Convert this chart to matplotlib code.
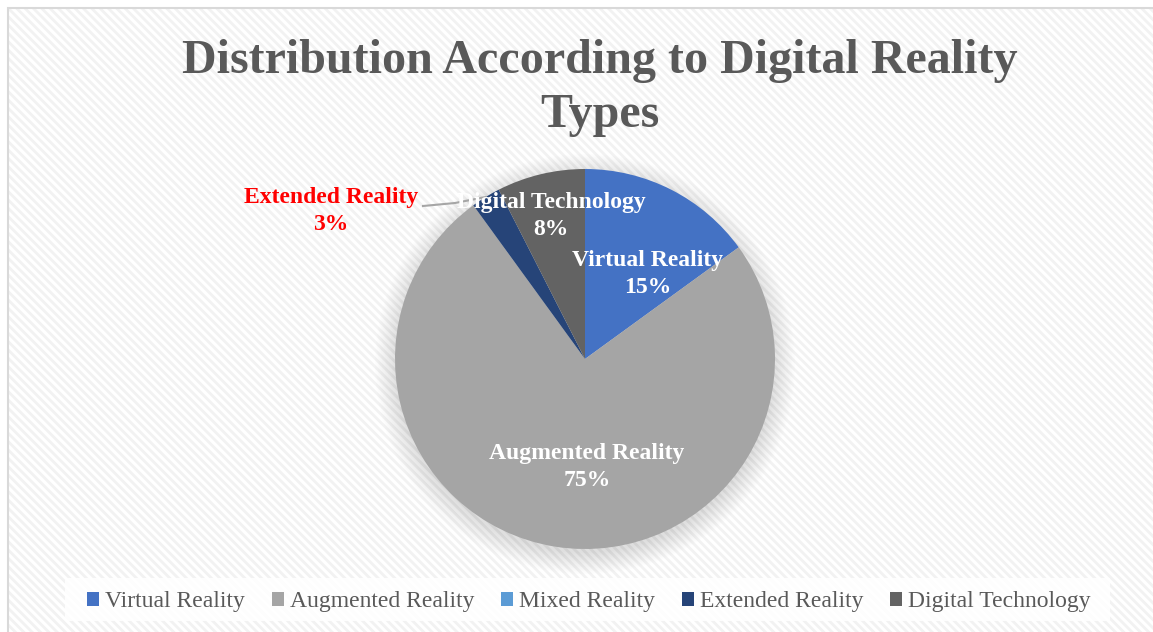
import numpy as np
import matplotlib.pyplot as plt
from matplotlib.patches import Rectangle, Circle

categories = ["Virtual Reality", "Augmented Reality", "Mixed Reality",
              "Extended Reality", "Digital Technology"]
counts = [6, 30, 0, 1, 3]
colors = ["#4472C4", "#A5A5A5", "#5B9BD5", "#264478", "#636363"]

W, H = 1153, 632
plt.rcParams["hatch.linewidth"] = 2.0
fig = plt.figure(figsize=(W / 100, H / 100), dpi=100)
ax = fig.add_axes([0, 0, 1, 1])

SERIF = ["Liberation Serif", "DejaVu Serif"]

# hatched background + frame
ax.add_patch(Rectangle((0, 0), W, H, facecolor="white", edgecolor="none", zorder=0))
ax.add_patch(Rectangle((8, -5), W, H - 8 + 5, facecolor="white", edgecolor="#F2F2F2",
                       hatch="\\\\\\\\", lw=0, zorder=0.5))
ax.add_patch(Rectangle((8, -5), W, H - 8 + 5, facecolor="none", edgecolor="#D9D9D9",
                       lw=1.5, zorder=0.6))

cx, cy, R = 585, H - 359, 190

# soft shadow
for k in range(16):
    ax.add_patch(Circle((cx, cy - 5), R + 20 - k * 1.4, facecolor="#000000",
                        alpha=0.009, edgecolor="none", zorder=1))

wedges, _ = ax.pie(counts, colors=colors, startangle=90, counterclock=False,
                   radius=R, center=(cx, cy), frame=True,
                   wedgeprops=dict(linewidth=0, zorder=2))
ax.set_xlim(0, W)
ax.set_ylim(0, H)
ax.set_aspect("equal")
ax.axis("off")

total = sum(counts)
pcts = [f"{int(c / total * 100 + 0.5)}%" for c in counts]

# label centres (image px)
label_pos = {0: (648, 274), 1: (587, 467), 4: (551, 216)}
for i, (x, y) in label_pos.items():
    ax.text(x, H - y, f"{categories[i]}\n{pcts[i]}", ha="center", va="center",
            color="white", fontsize=17, fontweight="bold", family=SERIF,
            linespacing=1.35, zorder=5)

# extended reality: outside label with leader line
ax.text(331, H - 211, f"{categories[3]}\n{pcts[3]}", ha="center", va="center",
        color="#FF0000", fontsize=17, fontweight="bold", family=SERIF,
        linespacing=1.35, zorder=5)
w = wedges[3]
mid = np.deg2rad((w.theta1 + w.theta2) / 2)
ex, ey = cx + R * np.cos(mid), cy + R * np.sin(mid)
ax.plot([423, 455, ex], [H - 206, H - 203, ey], color="#A6A6A6", lw=1.5, zorder=4)

# title
ax.text(600, H - 88, "Distribution According to Digital Reality\nTypes", ha="center",
        va="center", fontsize=34.6, fontweight="bold", color="#595959", family=SERIF,
        linespacing=1.3, zorder=5)

# legend
ax.add_patch(Rectangle((65, H - 621), 1045, 43, facecolor="white", edgecolor="none",
                       alpha=0.85, zorder=3))
leg = fig.legend(wedges, categories, loc="center", bbox_to_anchor=(589 / W, 1 - 602 / H),
                 ncol=5, frameon=False, handlelength=0.5, handleheight=0.5,
                 handletextpad=0.25, columnspacing=1.15,
                 prop=dict(family=SERIF, size=17))
for t in leg.get_texts():
    t.set_color("#595959")

fig.savefig("out.png", dpi=100)
